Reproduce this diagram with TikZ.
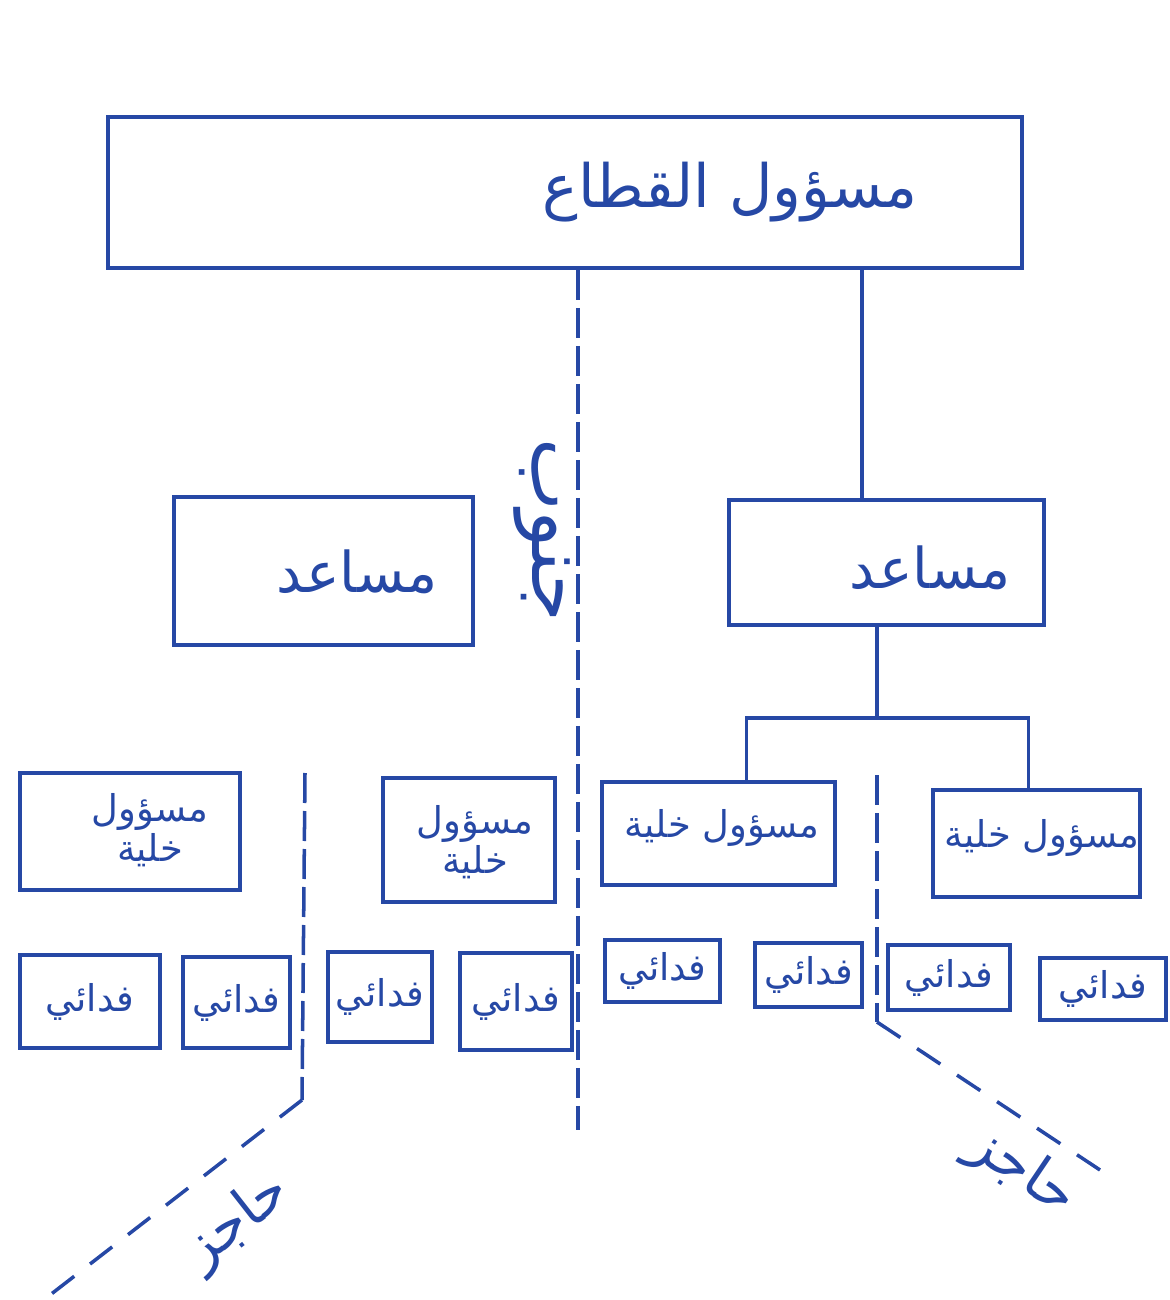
\documentclass[tikz,border=0pt]{standalone}
\usepackage{fontspec}
\usepackage{tikz}
\usetikzlibrary{calc}
\newfontfamily\arabicfont[Script=Arabic]{DejaVu Sans}
\TeXXeTstate=1
\definecolor{pen}{RGB}{38,72,165}
\newcommand{\ar}[1]{{\arabicfont\beginR #1\endR}}

\begin{document}
\begin{tikzpicture}[
  frame/.style = {
    draw = pen,
    line width = 1.1pt,
    inner sep = 0pt,
  },
  word/.style = {
    text = pen,
    inner sep = 1pt,
    font = \fontsize{16}{20}\selectfont,
  },
  small/.style = {
    font = \fontsize{10.5}{12.5}\selectfont,
  },
  link/.style = {
    draw = pen,
    line width = 1.1pt,
  },
  border/.style = {
    draw = pen,
    line width = 1pt,
    dash pattern = on 3mm off 0.8mm,
  },
  sparse/.style = {
    dash pattern = on 2.8mm off 2mm,
  },
]

  \useasboundingbox (0,0) rectangle (11.69,-13);

  % sector head
  \node[frame,minimum width=9.14cm,minimum height=1.51cm] (sector) at (5.65,-1.925) {};
  \node[word,font=\fontsize{17}{21}\selectfont] (sectorlbl) at (7.30,-1.92) {\ar{مسؤول القطاع}};

  % assistants
  \node[frame,minimum width=3.15cm,minimum height=1.25cm] (aidR) at (8.865,-5.625) {};
  \node[word] (aidRlbl) at (9.30,-5.68) {\ar{مساعد}};
  \node[frame,minimum width=2.99cm,minimum height=1.48cm] (aidL) at (3.235,-5.71) {};
  \node[word] (aidLlbl) at (3.57,-5.72) {\ar{مساعد}};

  % cell leaders
  \node[frame,minimum width=2.20cm,minimum height=1.17cm] (cellL1) at (1.30,-8.315) {};
  \node[word,small,align=center] (cellL1lbl) at (1.50,-8.30) {\ar{مسؤول}\\[-1pt]\ar{خلية}};
  \node[frame,minimum width=1.72cm,minimum height=1.24cm] (cellL2) at (4.69,-8.40) {};
  \node[word,small,align=center] (cellL2lbl) at (4.75,-8.42) {\ar{مسؤول}\\[-1pt]\ar{خلية}};
  \node[frame,minimum width=2.33cm,minimum height=1.03cm] (cellA) at (7.185,-8.335) {};
  \node[word,small] (cellAlbl) at (7.22,-8.28) {\ar{مسؤول خلية}};
  \node[frame,minimum width=2.07cm,minimum height=1.07cm] (cellB) at (10.365,-8.435) {};
  \node[word,small] (cellBlbl) at (10.42,-8.38) {\ar{مسؤول خلية}};

  % members
  \node[frame,word,small,minimum width=1.40cm,minimum height=0.93cm] (f1) at (0.90,-10.015) {\ar{فدائي}};
  \node[frame,word,small,minimum width=1.07cm,minimum height=0.91cm] (f2) at (2.365,-10.025) {\ar{فدائي}};
  \node[frame,word,small,minimum width=1.04cm,minimum height=0.90cm] (f3) at (3.80,-9.97) {\ar{فدائي}};
  \node[frame,word,small,minimum width=1.12cm,minimum height=0.97cm] (f4) at (5.16,-10.015) {\ar{فدائي}};
  \node[frame,word,small,minimum width=1.15cm,minimum height=0.62cm] (f5) at (6.625,-9.71) {\ar{فدائي}};
  \node[frame,word,small,minimum width=1.07cm,minimum height=0.64cm] (f6) at (8.085,-9.75) {\ar{فدائي}};
  \node[frame,word,small,minimum width=1.22cm,minimum height=0.65cm] (f7) at (9.49,-9.775) {\ar{فدائي}};
  \node[frame,word,small,minimum width=1.26cm,minimum height=0.62cm] (f8) at (11.03,-9.89) {\ar{فدائي}};

  % tree lines
  \coordinate (trunk) at (8.62,0);
  \coordinate (fork) at (8.77,-7.18);
  \path[link] (sector.south -| trunk) edge (aidR.north -| trunk);
  \draw[link] (aidR.south -| fork) -- (fork);
  \draw[link] ([xshift=2.8mm]cellA.north) |- (fork) -| ([xshift=-0.8mm]cellB.north);

  % dividing lines
  \coordinate (midend) at (5.78,-11.30);
  \coordinate (wtop) at (3.05,-7.73);
  \coordinate (wbend) at (3.02,-11.00);
  \coordinate (wend) at (0.50,-12.95);
  \coordinate (etop) at (8.77,-7.75);
  \coordinate (ebend) at (8.77,-10.22);
  \coordinate (eend) at (11.00,-11.70);

  \draw[border] (sector.south -| midend) -- (midend);
  \draw[border] (wtop) -- (wbend);
  \draw[border,sparse] (wbend) -- (wend);
  \draw[border] (etop) -- (ebend);
  \draw[border,sparse] (ebend) -- (eend);

  \node[word,rotate=-90,font=\fontsize{22}{26}\selectfont] (southlbl) at (5.42,-5.30) {\ar{جنوب}};
  \node[word,rotate=38] (wgate) at (2.38,-12.22) {\ar{حاجز}};
  \node[word,rotate=-34] (egate) at (10.22,-11.72) {\ar{حاجز}};

\end{tikzpicture}
\end{document}
